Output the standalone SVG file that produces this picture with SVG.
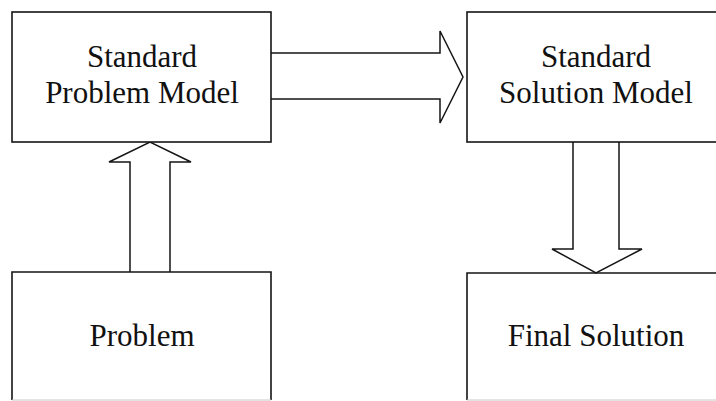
<svg xmlns="http://www.w3.org/2000/svg" width="716" height="401" viewBox="0 0 716 401">
  <defs>
    <style>
      .box { fill: #fff; stroke: #151515; stroke-width: 1.6; }
      .open { fill: none; stroke: #151515; stroke-width: 1.6; }
      .faint { fill: none; stroke: #c8c8c8; stroke-width: 1; }
      .arrow { fill: #fff; stroke: #151515; stroke-width: 1.5; stroke-linejoin: miter; }
      .label { font-family: "Liberation Serif", "Times New Roman", serif; font-size: 31px; fill: #111; text-anchor: middle; }
    </style>
  </defs>
  <rect width="716" height="401" fill="#fff"/>

  <!-- block arrows -->
  <g id="connectors">
    <!-- problem model to solution model -->
    <path class="arrow" d="M271 53 H440 V31 L463 77 L440 123 V99 H271"/>
    <!-- problem up to problem model -->
    <path class="arrow" d="M130 272 V162 H109 L150 142 L191 162 H170 V272"/>
    <!-- solution model down to final solution -->
    <path class="arrow" d="M573 142 V249 H552 L596 273 L642 249 H619 V142"/>
  </g>

  <g id="standard-problem-model">
    <rect class="box" x="12" y="12" width="259" height="130"/>
    <text class="label" x="142" y="67">Standard</text>
    <text class="label" x="142" y="103">Problem Model</text>
  </g>

  <g id="standard-solution-model">
    <rect class="box" x="467" y="12" width="259" height="130"/>
    <text class="label" x="596" y="67">Standard</text>
    <text class="label" x="596" y="103">Solution Model</text>
  </g>

  <g id="problem">
    <path class="open" d="M12 400 V272 H271 V400"/>
    <path class="faint" d="M12 400 H271"/>
    <text class="label" x="142" y="346">Problem</text>
  </g>

  <g id="final-solution">
    <path class="open" d="M467 400 V273 H726"/>
    <path class="faint" d="M467 400 H716"/>
    <text class="label" x="596" y="346">Final Solution</text>
  </g>
</svg>
